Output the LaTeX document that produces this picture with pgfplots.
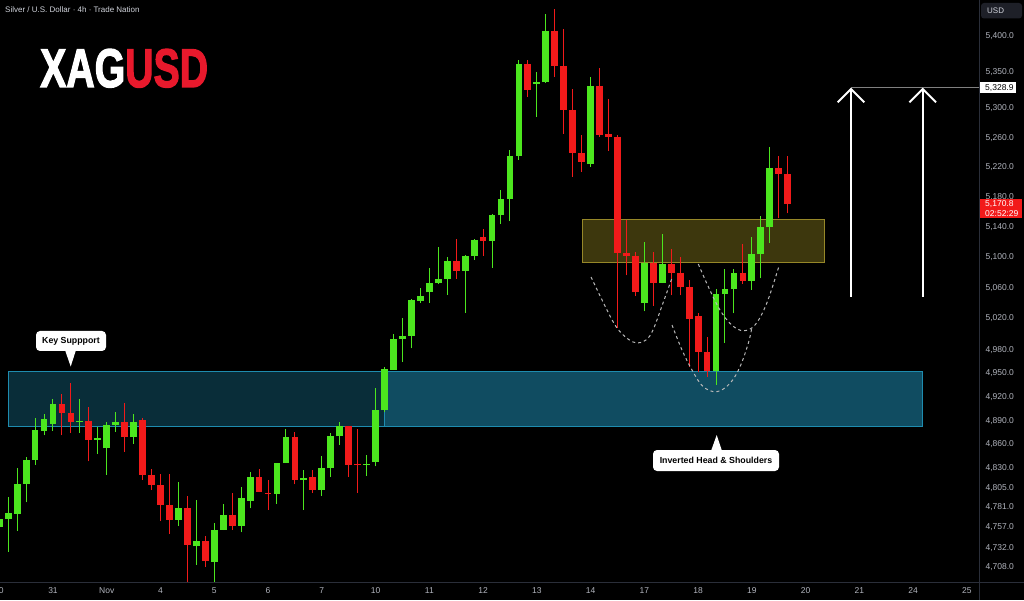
\documentclass[border=0pt]{standalone}
\usepackage{pgfplots}
\pgfplotsset{compat=1.18}
\usepackage{pgfplotstable}
\usepackage{fontspec}
\setmainfont{Liberation Sans}
\newfontfamily\logofont{Liberation Sans}[BoldFeatures={FakeBold=2.5}]
\definecolor{upc}{RGB}{76,230,30}
\definecolor{dnc}{RGB}{242,26,26}
\definecolor{gridc}{RGB}{42,46,57}
\definecolor{labelc}{RGB}{178,181,190}
\definecolor{titlec}{RGB}{209,212,220}
\definecolor{cyanbox}{RGB}{33,150,190}
\definecolor{cyanedge}{RGB}{30,140,175}
\definecolor{yelbox}{RGB}{205,185,45}
\definecolor{yeledge}{RGB}{150,135,40}
\definecolor{logored}{RGB}{232,25,44}
\definecolor{usdbg}{RGB}{30,32,40}
\definecolor{curvec}{RGB}{185,185,185}

\pgfplotstableread{
k o h l c
-6 4757.2 4770.9 4751.0 4767.2
-5 4767.2 4793.5 4726.7 4774.2
-4 4773.3 4829.4 4752.3 4810.5
-3 4810.1 4843.9 4787.0 4840.2
-2 4840.2 4892.8 4834.0 4877.7
-1 4876.8 4897.9 4870.5 4891.6
0 4885.2 4916.8 4876.4 4910.5
1 4910.5 4923.1 4870.5 4898.7
2 4898.7 4937.0 4873.9 4888.1
3 4888.1 4916.8 4873.9 4889.4
4 4889.4 4905.8 4838.1 4865.0
5 4865.0 4881.5 4847.6 4867.6
6 4854.2 4886.9 4821.6 4884.0
7 4884.0 4900.4 4875.1 4887.8
8 4887.8 4911.7 4850.1 4868.8
9 4868.8 4897.9 4860.0 4887.8
10 4889.9 4892.8 4815.4 4821.3
11 4821.3 4829.0 4802.2 4808.4
12 4808.4 4822.9 4763.8 4784.1
13 4784.1 4822.9 4748.6 4765.5
14 4765.5 4813.0 4758.5 4779.9
15 4780.4 4795.6 4690.0 4734.1
16 4732.9 4789.8 4710.6 4739.5
17 4739.5 4745.2 4708.1 4714.8
18 4714.3 4761.0 4690.0 4753.2
19 4753.2 4785.7 4753.0 4772.1
20 4772.1 4798.1 4753.5 4758.5
21 4758.5 4806.4 4750.2 4793.1
22 4789.1 4824.5 4779.5 4818.3
23 4818.3 4829.0 4800.6 4800.6
24 4799.0 4815.4 4778.3 4798.1
25 4797.7 4836.5 4785.7 4836.5
26 4836.1 4878.9 4836.1 4868.0
27 4868.0 4875.1 4809.2 4815.4
28 4815.0 4827.0 4778.3 4817.0
29 4817.9 4827.8 4799.0 4802.2
30 4802.2 4844.3 4795.6 4829.9
31 4829.4 4873.5 4818.8 4869.2
32 4869.2 4888.1 4858.8 4882.7
33 4882.7 4882.7 4818.8 4834.0
34 4835.2 4878.9 4799.0 4833.6
35 4833.6 4846.4 4820.4 4835.2
36 4837.3 4931.0 4831.9 4902.9
37 4902.0 4957.2 4900.8 4954.6
38 4953.7 5000.0 4953.7 4994.0
39 4994.0 5021.1 4964.0 4997.5
40 4997.8 5044.8 4981.6 5043.9
41 5043.0 5060.0 5040.4 5049.4
42 5053.9 5086.3 5040.4 5065.8
43 5065.8 5114.0 5064.5 5071.4
44 5071.4 5100.8 5050.4 5095.1
45 5095.1 5124.1 5071.4 5082.4
46 5082.4 5103.1 5027.5 5101.7
47 5102.1 5123.7 5096.5 5122.4
48 5126.4 5137.3 5102.1 5121.5
49 5121.9 5156.7 5086.3 5155.7
50 5155.3 5188.7 5144.3 5176.8
51 5177.6 5243.4 5147.8 5235.7
52 5235.3 5366.1 5229.9 5360.4
53 5360.4 5365.9 5315.9 5325.4
54 5333.9 5350.0 5288.3 5335.8
55 5335.8 5430.0 5335.2 5407.5
56 5407.5 5437.9 5342.7 5358.3
57 5358.3 5410.3 5265.0 5297.1
58 5297.1 5326.1 5207.3 5239.7
59 5239.7 5263.6 5214.0 5227.2
60 5224.0 5343.1 5220.8 5331.1
61 5330.7 5355.1 5260.5 5263.6
62 5265.0 5312.3 5242.4 5261.3
63 5261.3 5263.6 5007.4 5105.3
64 5105.3 5149.1 5076.3 5101.7
65 5101.3 5106.3 5049.1 5054.7
66 5039.6 5119.8 5029.0 5092.9
67 5092.9 5106.6 5036.5 5066.6
68 5066.6 5130.7 5065.8 5091.2
69 5091.2 5111.0 5050.0 5079.7
70 5079.7 5100.0 5050.0 5060.9
71 5060.9 5070.1 4958.0 5019.0
72 5022.9 5027.5 4950.9 4976.8
73 4976.8 4995.8 4944.5 4952.9
74 4952.9 5057.9 4934.6 5051.3
75 5051.3 5084.2 4988.8 5057.9
76 5058.3 5084.2 5026.7 5079.7
77 5079.7 5117.5 5064.9 5069.2
78 5069.2 5127.1 5057.0 5104.4
79 5104.4 5154.4 5072.4 5139.5
80 5139.5 5247.0 5119.3 5218.6
81 5219.0 5235.7 5151.4 5210.5
82 5210.5 5235.3 5158.0 5170.8
}\ohlc

\newcommand{\logoglyphs}{\logofont\fontsize{54.5}{60}\selectfont\bfseries}

\begin{document}
\begin{tikzpicture}
\useasboundingbox (0,0) rectangle (1024pt,600pt);
\fill[black] (0,0) rectangle (1024pt,600pt);
% background drawings (behind candles)
\begin{scope}[yshift=600pt,x=1pt,y=-1pt]
  \fill[cyanbox, fill opacity=0.3] (8,371.7) rectangle (922,426.7);
  \fill[cyanbox, fill opacity=0.3] (384,371.7) rectangle (922,426.7);
  \draw[cyanedge, line width=1pt] (8,371.7) rectangle (922,426.7);
  \draw[cyanedge, line width=1pt] (384,371.7) -- (384,426.7);
  \fill[yelbox, fill opacity=0.3] (582,219.3) rectangle (824.5,262.3);
  \draw[yeledge, line width=1pt] (582,219.3) rectangle (824.5,262.3);
  \draw[gridc, line width=1pt] (0,582.5) -- (1024,582.5);
  \draw[gridc, line width=1pt] (979.5,0) -- (979.5,600);
\end{scope}

\begin{axis}[
  at={(0pt,18pt)}, anchor=south west,
  scale only axis, width=979pt, height=582pt,
  xmin=-5.915, xmax=103.35,
  % logarithmic price scale, taken relative to 5000
  y coord trafo/.code={\pgfmathparse{ln(#1/5000)}},
  ymin=4689.8, ymax=5450.4,
  axis x line*=bottom, axis y line*=right,
  axis line style={draw=none},
  major tick length=0pt,
  xtick={0,6,12,18,24,30,36,42,48,54,60,66,72,78,84,90,96,102},
  xticklabels={31,Nov,4,5,6,7,10,11,12,13,14,17,18,19,20,21,24,25},
  ytick={4708,4732,4757,4781,4805,4830,4860,4890,4920,4950,4980,5020,5060,5100,5140,5180,5220,5260,5300,5350,5400},
  yticklabels={{4,708.0},{4,732.0},{4,757.0},{4,781.0},{4,805.0},{4,830.0},{4,860.0},{4,890.0},{4,920.0},{4,950.0},{4,980.0},{5,020.0},{5,060.0},{5,100.0},{5,140.0},{5,180.0},{5,220.0},{5,260.0},{5,300.0},{5,350.0},{5,400.0}},
  tick label style={text=labelc, font=\fontsize{8.5}{10}\selectfont},
  xticklabel style={anchor=center, yshift=-9pt},
  yticklabel style={anchor=west, xshift=3pt},
]
\pgfplotsinvokeforeach{0,...,88}{
  \pgfplotstablegetelem{#1}{k}\of\ohlc \edef\ck{\pgfplotsretval}
  \pgfplotstablegetelem{#1}{o}\of\ohlc \edef\co{\pgfplotsretval}
  \pgfplotstablegetelem{#1}{h}\of\ohlc \edef\ch{\pgfplotsretval}
  \pgfplotstablegetelem{#1}{l}\of\ohlc \edef\cl{\pgfplotsretval}
  \pgfplotstablegetelem{#1}{c}\of\ohlc \edef\cc{\pgfplotsretval}
  \pgfmathtruncatemacro\isup{\cc>=\co}
  \ifnum\isup=1 \def\ccol{upc}\else\def\ccol{dnc}\fi
  \edef\doplot{%
    \noexpand\addplot[draw=\ccol, line width=1pt, forget plot] coordinates {(\ck,\cl) (\ck,\ch)};
    \noexpand\addplot[draw=\ccol, line width=6.8pt, line cap=butt, forget plot] coordinates {(\ck,\co) (\ck,\cc)};
  }
  \doplot
}
\end{axis}

% overlay drawings
\begin{scope}[yshift=600pt,x=1pt,y=-1pt]
  % date label of the partly hidden first day
  \node[inner sep=0pt, font=\fontsize{8.5}{10}\selectfont, text=labelc] at (-1,591) {30};
  % head and shoulders curves
  \draw[curvec, line width=1pt, dash pattern=on 3pt off 3pt] plot[smooth, tension=0.6] coordinates {(591,277) (607,310) (617,328) (628,339) (637,343) (646,340) (653,330) (663,303) (672,278)};
  \draw[curvec, line width=1pt, dash pattern=on 3pt off 3pt] plot[smooth, tension=0.6] coordinates {(672,325) (682,350) (692,370) (703,386.5) (716.7,391.7) (730,383.3) (740,366.7) (748.3,343.3) (751.7,328.3)};
  \draw[curvec, line width=1pt, dash pattern=on 3pt off 3pt] plot[smooth, tension=0.6] coordinates {(698.3,264) (708.3,286.7) (720,310) (731.7,325) (743.3,330.7) (755,325) (766.7,303.3) (779.3,265)};
  % target line and arrows
  \draw[gray, line width=1pt] (851,88) -- (979,88);
  \draw[white, line width=2pt] (851,296.7) -- (851,89);
  \draw[white, line width=2pt, line join=miter] (837.7,102.3) -- (851,89) -- (864.3,102.3);
  \draw[white, line width=2pt] (922.7,296.7) -- (922.7,89);
  \draw[white, line width=2pt, line join=miter] (909.4,102.3) -- (922.7,89) -- (936,102.3);
  % callouts
  \fill[white, rounded corners=4pt] (36,331) rectangle (106,351);
  \fill[white] (65,350) -- (76,350) -- (70.7,366.5) -- cycle;
  \node[font=\bfseries\fontsize{8.8}{10}\selectfont, text=black] at (71,341) {Key Suppport};
  \fill[white, rounded corners=4pt] (653,450) rectangle (779,471);
  \fill[white] (711,451) -- (722,451) -- (716.7,435) -- cycle;
  \node[font=\bfseries\fontsize{8.8}{10}\selectfont, text=black] at (716,460.5) {Inverted Head \& Shoulders};
  % title
  \node[anchor=west, inner sep=0pt, font=\fontsize{8}{9.6}\selectfont, text=titlec] at (5,10) {Silver / U.S. Dollar · 4h · Trade Nation};
  % logo
  \node[anchor=base west, inner sep=0pt, text=white] at (40,87) {\scalebox{0.72}[1]{\logoglyphs XAG\textcolor{logored}{USD}}};
  % right scale labels
  \fill[usdbg, rounded corners=3pt] (981,3) rectangle (1022,18.5);
  \node[anchor=west, inner sep=0pt, font=\fontsize{8}{9}\selectfont, text=titlec] at (987,10.8) {USD};
  \fill[white] (979.5,82.5) rectangle (1016,93.5);
  \node[anchor=west, inner sep=0pt, font=\fontsize{8.5}{10}\selectfont, text=black] at (985,88) {5,328.9};
  \fill[dnc] (979.5,199) rectangle (1021.5,218.5);
  \node[anchor=west, inner sep=0pt, font=\fontsize{8.5}{10}\selectfont, text=white] at (985,204) {5,170.8};
  \node[anchor=west, inner sep=0pt, font=\fontsize{8.5}{10}\selectfont, text=white] at (985,213.5) {02:52:29};
\end{scope}
\end{tikzpicture}
\end{document}
